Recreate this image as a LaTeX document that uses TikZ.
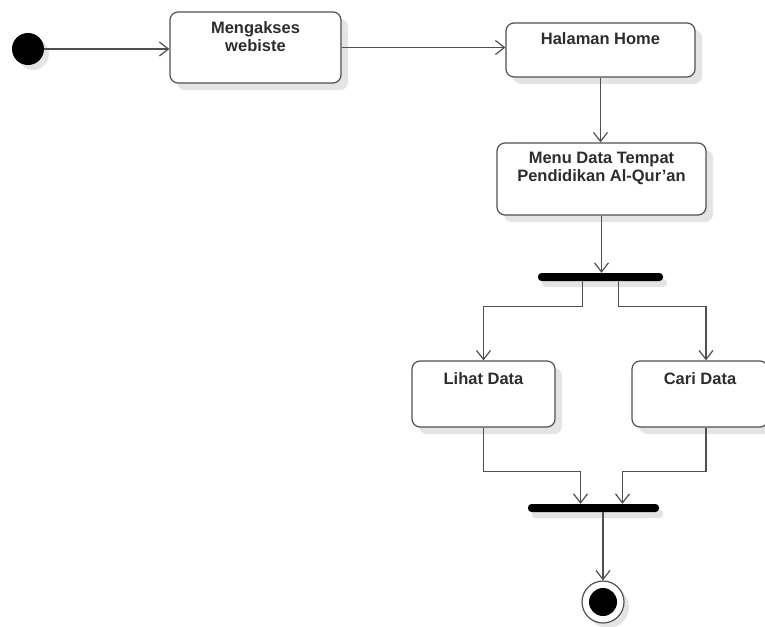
\documentclass[tikz,border=0pt]{standalone}
\usepackage{fontspec}
\setmainfont{Liberation Sans}
\usetikzlibrary{arrows.meta, positioning, shadows}
\definecolor{linegray}{RGB}{80,80,80}
\definecolor{textgray}{RGB}{45,45,45}
\definecolor{shadowgray}{RGB}{228,228,228}

\begin{document}
\begin{tikzpicture}[x=1pt, y=-1pt,
    action/.style={draw=linegray, line width=1.2pt, fill=white, rounded corners=8pt, inner sep=0pt,
        drop shadow={shadow xshift=7pt, shadow yshift=-7pt, fill=shadowgray, opacity=1}},
    actiontext/.style={anchor=north, font=\fontsize{16.5}{17.5}\selectfont\bfseries, text=textgray, align=center, inner sep=0pt},
    syncbar/.style={fill=black, rounded corners=3.5pt, minimum height=8pt, inner sep=0pt,
        drop shadow={shadow xshift=4pt, shadow yshift=-6pt, fill=shadowgray, opacity=1}},
    startdot/.style={circle, fill=black, minimum size=32pt, inner sep=0pt,
        drop shadow={shadow xshift=5pt, shadow yshift=-5pt, fill=shadowgray, opacity=1}},
    enddot/.style={circle, draw=linegray, line width=1.2pt, fill=white, minimum size=42pt, inner sep=0pt,
        drop shadow={shadow xshift=5pt, shadow yshift=-5pt, fill=shadowgray, opacity=1},
        path picture={\fill[black] (path picture bounding box.center) circle (14pt);}},
    flow/.style={-{Straight Barb[length=9pt, width=14pt]}, draw=linegray, line width=1.2pt}]
    \useasboundingbox (0,0) rectangle (765,626);

    % Start
    \node[startdot] (start) at (28,49) {};

    % Actions
    \node[action, minimum width=171pt, minimum height=71pt] (akses) at (255.5,47.5) {};
    \node[actiontext, yshift=-10pt] (aksestext) at (akses.north) {Mengakses\\webiste};

    \node[action, minimum width=189pt, minimum height=54pt] (home) at (600.5,50) {};
    \node[actiontext, yshift=-10pt] (hometext) at (home.north) {Halaman Home};

    \node[action, minimum width=209pt, minimum height=72pt] (menu) at (601.5,179) {};
    \node[actiontext, yshift=-10pt] (menutext) at (menu.north) {Menu Data Tempat\\Pendidikan Al-Qur'an};

    % Fork
    \node[syncbar, minimum width=125pt] (fork) at (600.5,277) {};

    \node[action, minimum width=143pt, minimum height=66pt] (lihat) at (483.5,394) {};
    \node[actiontext, yshift=-12pt] (lihattext) at (lihat.north) {Lihat Data};

    \node[action, minimum width=136pt, minimum height=66pt] (cari) at (700,394) {};
    \node[actiontext, yshift=-12pt] (caritext) at (cari.north) {Cari Data};

    % Join and end
    \node[syncbar, minimum width=131pt] (join) at (593.5,508) {};
    \node[enddot] (end) at (603,602) {};

    % Connectors
    \draw[flow] (start) -- (start -| akses.west);
    \draw[flow] (akses.east) -- (akses.east -| home.west);
    \draw[flow] (home.south) -- (home.south |- menu.north);
    \draw[flow] (menu.south) -- (menu.south |- fork.north);
    \draw[flow] ([xshift=-18pt]fork.south) -- ++(0,25) -| (lihat.north);
    \draw[flow] ([xshift=18pt]fork.south) -- ++(0,25) -| ([xshift=6pt]cari.north);
    \draw[flow] (lihat.south) -- ++(0,44) -| ([xshift=-13pt]join.north);
    \draw[flow] ([xshift=6pt]cari.south) -- ++(0,44) -| ([xshift=29pt]join.north);
    \draw[flow] (join.south -| end) -- (end);
\end{tikzpicture}
\end{document}
